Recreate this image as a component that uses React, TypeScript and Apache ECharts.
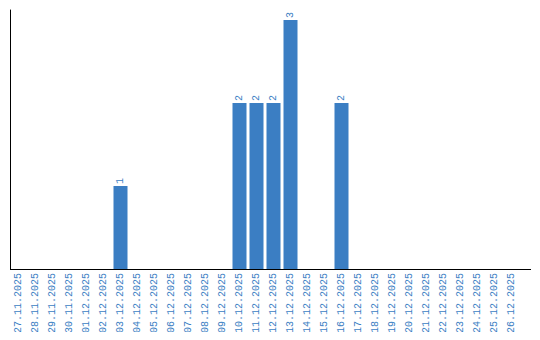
import React, { useEffect, useRef } from "react";
import * as echarts from "echarts";

const categories = [
  "27.11.2025", "28.11.2025", "29.11.2025", "30.11.2025", "01.12.2025", "02.12.2025",
  "03.12.2025", "04.12.2025", "05.12.2025", "06.12.2025", "07.12.2025", "08.12.2025",
  "09.12.2025", "10.12.2025", "11.12.2025", "12.12.2025", "13.12.2025", "14.12.2025",
  "15.12.2025", "16.12.2025", "17.12.2025", "18.12.2025", "19.12.2025", "20.12.2025",
  "21.12.2025", "22.12.2025", "23.12.2025", "24.12.2025", "25.12.2025", "26.12.2025",
];
const values = [
  0, 0, 0, 0, 0, 0,
  1, 0, 0, 0, 0, 0,
  0, 2, 2, 2, 3, 0,
  0, 2, 0, 0, 0, 0,
  0, 0, 0, 0, 0, 0,
];

const BLUE = "#3b7ec3";

export default function App() {
  const ref = useRef<HTMLDivElement>(null);
  useEffect(() => {
    if (!ref.current) return;
    const chart = echarts.init(ref.current, null, { renderer: "svg" });
    chart.setOption({
      animation: false,
      grid: { left: 10, right: 20, top: 10, bottom: 71, containLabel: false },
      xAxis: {
        type: "category",
        data: categories,
        axisLine: { show: false },
        axisTick: { show: false },
        axisLabel: {
          rotate: 90,
          interval: 0,
          color: BLUE,
          fontFamily: "Liberation Mono",
          fontSize: 10,
          margin: 4,
        },
      },
      yAxis: {
        type: "value",
        min: 0,
        max: 3.12,
        axisLine: { show: true, lineStyle: { color: "#000", width: 1 } },
        axisTick: { show: false },
        axisLabel: { show: false },
        splitLine: { show: false },
      },
      graphic: [
        {
          type: "line",
          shape: { x1: 10, y1: 269.5, x2: 531, y2: 269.5 },
          style: { stroke: "#000", lineWidth: 1 },
          z: 10,
        },
      ],
      series: [
        {
          type: "bar",
          data: values.map((v) => (v === 0 ? null : v)),
          barWidth: 14,
          itemStyle: { color: BLUE },
          label: {
            show: true,
            position: "top",
            rotate: 90,
            align: "left",
            verticalAlign: "middle",
            distance: 2,
            color: BLUE,
            fontFamily: "Liberation Mono",
            fontSize: 10,
          },
        },
      ],
    });
    return () => chart.dispose();
  }, []);
  return <div ref={ref} style={{ width: 540, height: 340, margin: -8 }} />;
}
